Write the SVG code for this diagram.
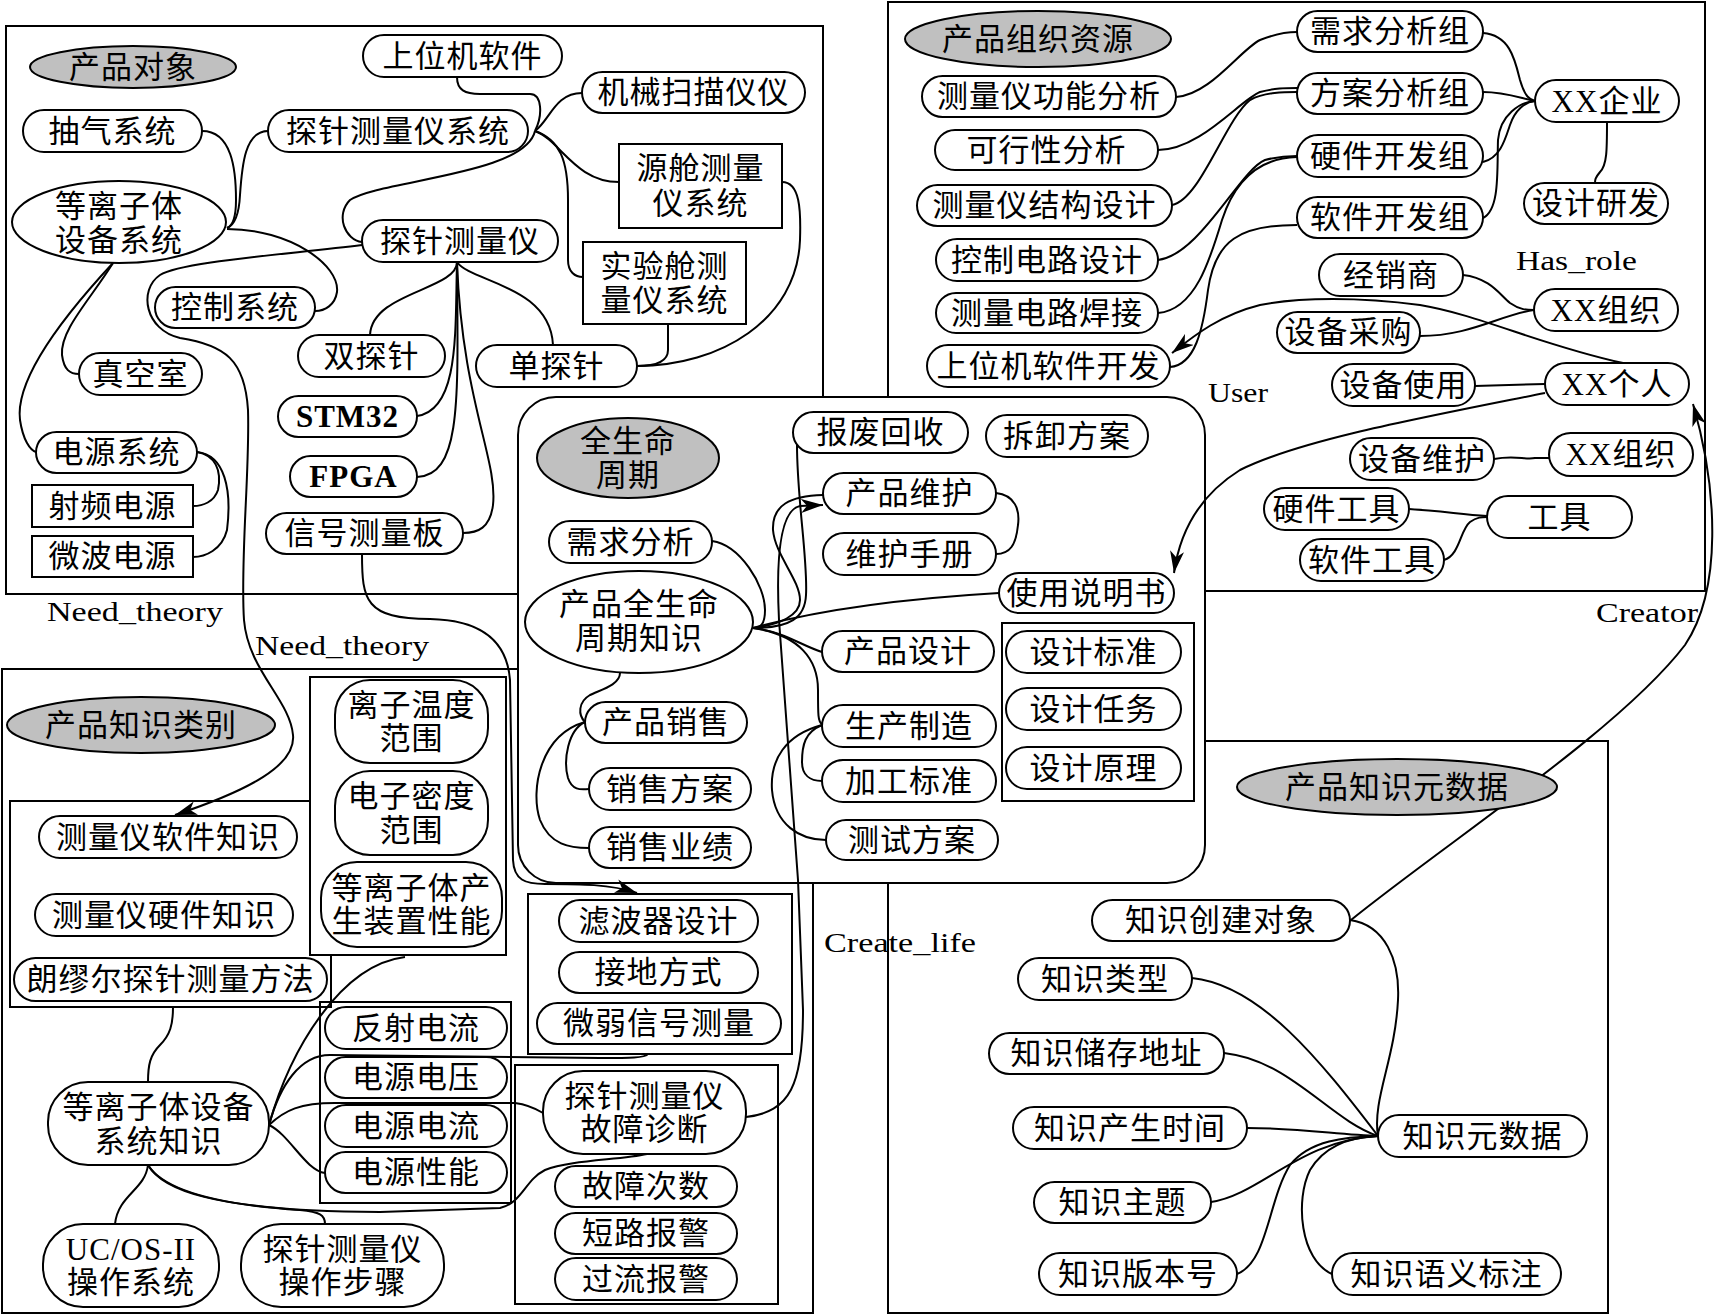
<svg xmlns="http://www.w3.org/2000/svg" width="1723" height="1316" viewBox="0 0 1723 1316">
<style>
.fr{fill:none;stroke:#000;stroke-width:2}
.p{fill:#fff;stroke:#000;stroke-width:2}
.r{fill:#fff;stroke:#000;stroke-width:2}
.b{fill:none;stroke:#000;stroke-width:2}
.e{fill:#c0c0c0;stroke:#000;stroke-width:2}
.w{fill:#fff;stroke:#000;stroke-width:2}
.c{fill:none;stroke:#000;stroke-width:2}
text{font-family:"Liberation Serif","Noto Sans CJK SC",serif;font-size:31px;fill:#000}
.t{text-anchor:middle;dominant-baseline:central;letter-spacing:1px}
.lb{font-size:28px}
.bd{font-weight:bold}
</style>
<defs>
<marker id="ar" markerUnits="userSpaceOnUse" markerWidth="24" markerHeight="14" refX="22" refY="7" orient="auto">
<path d="M0,0 L22,7 L0,14 L6,7 z" fill="#000"/>
</marker>
</defs>

<g id="frames">
<path class="fr" d="M518,594 H6 V26 H823 V397"/>
<path class="fr" d="M518,669 H2 V1313 H813 V883"/>
<path class="fr" d="M888,397 V2 H1705 V591 H1205"/>
<path class="fr" d="M888,883 V1313 H1608 V741 H1205"/>
<rect id="lifecycle-box" class="fr" x="518" y="397" width="687" height="486" rx="38"/>
<rect class="b" x="310" y="677" width="196" height="278"/>
<path class="b" d="M310,801 H10 V1007 H331 V955"/>
<rect class="b" x="320" y="1002" width="191" height="201"/>
<rect class="b" x="528" y="894" width="264" height="160"/>
<rect class="b" x="515" y="1065" width="263" height="239"/>
<rect class="b" x="1002" y="623" width="192" height="178"/>
</g>

<g id="labels">
<text class="lb" x="47" y="621" textLength="176" lengthAdjust="spacingAndGlyphs">Need_theory</text>
<text class="lb" x="255" y="655" textLength="174" lengthAdjust="spacingAndGlyphs">Need_theory</text>
<text class="lb" x="1208" y="402" textLength="60" lengthAdjust="spacingAndGlyphs">User</text>
<text class="lb" x="1516" y="270" textLength="121" lengthAdjust="spacingAndGlyphs">Has_role</text>
<text class="lb" x="1596" y="622" textLength="102" lengthAdjust="spacingAndGlyphs">Creator</text>
<text class="lb" x="824" y="952" textLength="152" lengthAdjust="spacingAndGlyphs">Create_life</text>
</g>

<g id="connectors">
<path class="c" d="M202,131 C232,131 236,170 236,200 C236,220 232,226 227,228"/>
<path class="c" d="M268,131 C245,131 242,165 240,195 C239,215 235,225 227,228"/>
<path class="c" d="M227,229 C290,229 340,265 337,292 C335,305 325,311 315,311"/>
<path class="c" marker-end="url(#ar)" d="M362,245 C280,255 180,262 160,275 C138,290 145,330 180,338 C225,345 245,360 248,410 C250,470 240,560 244,620 C248,670 290,700 293,735 C296,765 250,790 175,815"/>
<path class="c" d="M535,131 C525,175 380,180 350,200 C335,215 345,240 362,242"/>
<path class="c" d="M457,77 C457,90 465,94 480,94 L530,94 C542,94 543,115 535,131"/>
<path class="c" d="M535,131 C550,120 555,93 582,93"/>
<path class="c" d="M535,131 C560,140 575,182 619,182"/>
<path class="c" d="M535,131 C560,140 568,160 568,200 L568,260 C568,272 575,277 583,277"/>
<path class="c" d="M782,182 C800,182 801,210 800,240 C797,320 720,366 637,366"/>
<path class="c" d="M668,324 L668,350 C668,362 655,366 637,366"/>
<path class="c" d="M457,262 C457,290 372,292 370,335"/>
<path class="c" d="M457,262 C455,330 460,410 417,416"/>
<path class="c" d="M457,262 C458,400 462,475 417,477"/>
<path class="c" d="M457,262 C462,400 498,460 493,505 C490,528 478,533 463,533"/>
<path class="c" d="M457,262 C470,282 550,285 553,345"/>
<path class="c" marker-end="url(#ar)" d="M362,554 C362,600 365,619 430,619 C480,620 507,640 510,680 L513,860 C514,880 525,884 545,884 C580,884 610,884 637,893"/>
<path class="c" d="M113,263 C90,300 60,330 62,355 C64,370 70,374 79,374"/>
<path class="c" d="M113,263 C60,320 15,380 20,420 C23,440 30,450 36,452"/>
<path class="c" d="M197,452 C215,455 222,470 218,490 C214,502 203,506 193,506"/>
<path class="c" d="M197,452 C225,455 232,490 227,530 C222,550 205,557 193,557"/>

<path class="c" d="M1176,97 C1210,95 1240,50 1260,40 C1275,34 1285,32 1297,32"/>
<path class="c" d="M1158,150 C1200,150 1240,100 1260,92 C1275,88 1285,88 1297,88"/>
<path class="c" d="M1172,205 C1200,200 1225,120 1250,100 C1265,92 1285,92 1297,92"/>
<path class="c" d="M1158,260 C1200,255 1240,170 1265,160 C1280,156 1290,156 1297,156"/>
<path class="c" d="M1158,313 C1195,310 1210,260 1222,220 C1235,180 1260,158 1297,157"/>
<path class="c" d="M1170,367 C1195,365 1203,330 1208,290 C1215,240 1240,225 1297,225"/>
<path class="c" d="M1483,33 C1510,35 1515,60 1520,80 C1525,97 1530,100 1535,101"/>
<path class="c" d="M1483,92 C1505,92 1520,98 1535,101"/>
<path class="c" d="M1483,162 C1500,158 1505,140 1510,125 C1515,110 1525,102 1535,101"/>
<path class="c" d="M1483,218 C1500,210 1497,170 1498,140 C1500,115 1520,102 1535,101"/>
<path class="c" d="M1607,122 C1607,150 1607,165 1600,172 C1595,178 1595,180 1595,183"/>
<path class="c" d="M1463,275 C1490,278 1500,295 1510,303 C1520,310 1527,310 1534,310"/>
<path class="c" d="M1420,336 C1470,336 1500,315 1534,310"/>
<path class="c" d="M1475,386 L1545,384"/>
<path class="c" marker-end="url(#ar)" d="M1623,363 C1540,345 1480,315 1420,305 C1360,297 1300,297 1260,305 C1220,315 1195,335 1172,353"/>
<path class="c" marker-end="url(#ar)" d="M1545,393 C1420,418 1300,440 1240,470 C1200,495 1180,530 1174,573"/>
<path class="c" d="M1494,459 C1515,455 1525,460 1535,458 L1549,458"/>
<path class="c" d="M1409,509 C1440,511 1460,514 1487,516"/>
<path class="c" d="M1444,560 C1460,555 1460,530 1470,522 C1477,517 1482,517 1487,517"/>
<path class="c" marker-end="url(#ar)" d="M1351,920 C1450,840 1620,730 1685,645 C1722,590 1718,490 1693,404"/>

<path class="c" d="M712,541 C740,545 765,585 765,610 C765,625 760,628 753,628"/>
<path class="c" d="M620,673 C620,685 600,690 590,695 C578,702 578,715 585,722"/>
<path class="c" d="M585,722 C568,730 563,760 568,778 C572,790 580,790 589,789"/>
<path class="c" d="M585,722 C540,735 530,790 540,820 C550,845 570,848 589,848"/>
<path class="c" d="M797,445 C797,500 808,560 806,595 C805,618 790,628 753,628"/>
<path class="c" d="M753,628 C780,625 800,615 800,600 C800,580 775,555 773,530 C772,505 790,496 823,495"/>
<path class="c" marker-end="url(#ar)" d="M746,1117 C790,1112 803,1085 803,1010 L798,880 L779,620 C776,560 780,510 800,506 L823,505"/>
<path class="c" d="M753,628 C800,615 880,600 999,593"/>
<path class="c" d="M753,628 C785,632 800,645 822,652"/>
<path class="c" d="M753,628 C800,635 818,660 818,690 C818,715 818,722 822,724"/>
<path class="c" d="M822,725 C805,732 802,745 802,762 C802,775 810,781 822,781"/>
<path class="c" d="M822,725 C785,735 770,760 772,790 C775,825 800,840 826,840"/>
<path class="c" d="M996,493 C1015,495 1020,510 1018,525 C1016,545 1010,554 996,554"/>

<path class="c" d="M173,1007 C173,1025 170,1035 160,1045 C150,1055 148,1065 148,1082"/>
<path class="c" d="M269,1125 C290,1050 340,965 405,957"/>
<path class="c" d="M269,1125 C280,1085 300,1055 330,1055 L600,1058 C630,1058 645,1058 648,1054"/>
<path class="c" d="M269,1125 C285,1110 300,1103 335,1103 L515,1103 C530,1105 538,1110 543,1113"/>
<path class="c" d="M269,1125 C290,1135 305,1170 325,1173"/>
<path class="c" d="M148,1165 C145,1190 118,1195 115,1224"/>
<path class="c" d="M148,1165 C165,1195 230,1205 300,1210 C320,1212 325,1215 325,1224"/>
<path class="c" d="M148,1165 C170,1200 260,1212 380,1212 L500,1208 C522,1203 525,1180 545,1170 C570,1160 620,1160 647,1154"/>

<path class="c" d="M1350,920 C1385,925 1400,960 1398,1000 C1395,1060 1372,1100 1378,1136"/>
<path class="c" d="M1192,978 C1260,985 1320,1060 1378,1136"/>
<path class="c" d="M1224,1053 C1290,1060 1330,1120 1378,1136"/>
<path class="c" d="M1247,1128 C1300,1128 1340,1135 1378,1136"/>
<path class="c" d="M1211,1202 C1260,1195 1300,1140 1378,1136"/>
<path class="c" d="M1237,1274 C1268,1262 1268,1200 1290,1165 C1310,1140 1345,1137 1378,1136"/>
<path class="c" d="M1332,1274 C1300,1260 1295,1200 1310,1170 C1325,1145 1350,1137 1378,1136"/>
</g>

<!-- Product object -->
<g id="n-cpdx"><ellipse class="e" cx="133" cy="67" rx="103" ry="21"/><text class="t" x="133" y="67">产品对象</text></g>
<g id="n-swjrj"><rect class="p" x="363" y="35" width="199" height="42" rx="21"/><text class="t" x="462.5" y="56">上位机软件</text></g>
<g id="n-jxsmy"><rect class="p" x="582" y="72" width="223" height="41" rx="20.5"/><text class="t" x="693.5" y="92.5">机械扫描仪仪</text></g>
<g id="n-cqxt"><rect class="p" x="23" y="110" width="179" height="42" rx="21"/><text class="t" x="112.5" y="131">抽气系统</text></g>
<g id="n-tzclyxt"><rect class="p" x="268" y="110" width="260" height="42" rx="21"/><text class="t" x="398" y="131">探针测量仪系统</text></g>
<g id="n-yc"><rect class="r" x="619" y="144" width="163" height="84"/><text class="t" x="700.5" y="168">源舱测量</text><text class="t" x="700.5" y="203">仪系统</text></g>
<g id="n-dlzt"><ellipse class="w" cx="119" cy="222" rx="107" ry="41"/><text class="t" x="119" y="206">等离子体</text><text class="t" x="119" y="240">设备系统</text></g>
<g id="n-tzcly"><rect class="p" x="362" y="220" width="196" height="42" rx="21"/><text class="t" x="460" y="241">探针测量仪</text></g>
<g id="n-syc"><rect class="r" x="583" y="242" width="163" height="82"/><text class="t" x="664.5" y="266">实验舱测</text><text class="t" x="664.5" y="300">量仪系统</text></g>
<g id="n-kzxt"><rect class="p" x="155" y="287" width="160" height="41" rx="20.5"/><text class="t" x="235" y="307.5">控制系统</text></g>
<g id="n-stz"><rect class="p" x="298" y="335" width="147" height="42" rx="21"/><text class="t" x="371.5" y="356">双探针</text></g>
<g id="n-zks"><rect class="p" x="79" y="353" width="123" height="42" rx="21"/><text class="t" x="140.5" y="374">真空室</text></g>
<g id="n-dtz"><rect class="p" x="476" y="345" width="161" height="42" rx="21"/><text class="t" x="556.5" y="366">单探针</text></g>
<g id="n-stm32"><rect class="p" x="278" y="396" width="139" height="41" rx="20.5"/><text class="t bd" x="347.5" y="416.5">STM32</text></g>
<g id="n-dyxt"><rect class="p" x="36" y="432" width="161" height="41" rx="20.5"/><text class="t" x="116.5" y="452.5">电源系统</text></g>
<g id="n-fpga"><rect class="p" x="290" y="456" width="127" height="41" rx="20.5"/><text class="t bd" x="353.5" y="476.5">FPGA</text></g>
<g id="n-spdy"><rect class="r" x="32" y="485" width="161" height="42"/><text class="t" x="112.5" y="506">射频电源</text></g>
<g id="n-xhclb"><rect class="p" x="266" y="513" width="197" height="41" rx="20.5"/><text class="t" x="364.5" y="533.5">信号测量板</text></g>
<g id="n-wbdy"><rect class="r" x="32" y="536" width="161" height="41"/><text class="t" x="112.5" y="556.5">微波电源</text></g>

<!-- Organization resources -->
<g id="n-cpzzzy"><ellipse class="e" cx="1038" cy="39" rx="133" ry="28"/><text class="t" x="1038" y="39">产品组织资源</text></g>
<g id="n-xqfxz"><rect class="p" x="1297" y="11" width="186" height="41" rx="20.5"/><text class="t" x="1390" y="31.5">需求分析组</text></g>
<g id="n-clygnfx"><rect class="p" x="922" y="76" width="254" height="41" rx="20.5"/><text class="t" x="1049" y="96.5">测量仪功能分析</text></g>
<g id="n-fafxz"><rect class="p" x="1297" y="73" width="186" height="41" rx="20.5"/><text class="t" x="1390" y="93.5">方案分析组</text></g>
<g id="n-xxqy"><rect class="p" x="1535" y="80" width="144" height="42" rx="21"/><text class="t" x="1607" y="101">XX企业</text></g>
<g id="n-kxxfx"><rect class="p" x="935" y="130" width="223" height="40" rx="20"/><text class="t" x="1046.5" y="150">可行性分析</text></g>
<g id="n-yjkfz"><rect class="p" x="1297" y="135" width="186" height="42" rx="21"/><text class="t" x="1390" y="156">硬件开发组</text></g>
<g id="n-clyjgsj"><rect class="p" x="917" y="185" width="255" height="41" rx="20.5"/><text class="t" x="1044.5" y="205.5">测量仪结构设计</text></g>
<g id="n-sjyf"><rect class="p" x="1524" y="183" width="144" height="41" rx="20.5"/><text class="t" x="1596" y="203.5">设计研发</text></g>
<g id="n-rjkfz"><rect class="p" x="1297" y="197" width="186" height="41" rx="20.5"/><text class="t" x="1390" y="217.5">软件开发组</text></g>
<g id="n-kzdlsj"><rect class="p" x="936" y="239" width="222" height="42" rx="21"/><text class="t" x="1047" y="260">控制电路设计</text></g>
<g id="n-jxs"><rect class="p" x="1319" y="254" width="144" height="42" rx="21"/><text class="t" x="1391" y="275">经销商</text></g>
<g id="n-xxzz"><rect class="p" x="1534" y="289" width="144" height="42" rx="21"/><text class="t" x="1606" y="310">XX组织</text></g>
<g id="n-cldlhj"><rect class="p" x="936" y="293" width="222" height="40" rx="20"/><text class="t" x="1047" y="313">测量电路焊接</text></g>
<g id="n-sbcg"><rect class="p" x="1277" y="312" width="143" height="41" rx="20.5"/><text class="t" x="1348.5" y="332.5">设备采购</text></g>
<g id="n-swjrjkf"><rect class="p" x="927" y="345" width="243" height="42" rx="21"/><text class="t" x="1048.5" y="366">上位机软件开发</text></g>
<g id="n-sbsy"><rect class="p" x="1332" y="364" width="143" height="42" rx="21"/><text class="t" x="1403.5" y="385">设备使用</text></g>
<g id="n-xxgr"><rect class="p" x="1545" y="363" width="144" height="42" rx="21"/><text class="t" x="1617" y="384">XX个人</text></g>
<g id="n-sbwh"><rect class="p" x="1350" y="438" width="144" height="42" rx="21"/><text class="t" x="1422" y="459">设备维护</text></g>
<g id="n-xxzz2"><rect class="p" x="1549" y="433" width="144" height="43" rx="21.5"/><text class="t" x="1621" y="454.5">XX组织</text></g>
<g id="n-yjgj"><rect class="p" x="1264" y="488" width="145" height="42" rx="21"/><text class="t" x="1336.5" y="509">硬件工具</text></g>
<g id="n-gj"><rect class="p" x="1487" y="496" width="145" height="42" rx="21"/><text class="t" x="1559.5" y="517">工具</text></g>
<g id="n-rjgj"><rect class="p" x="1300" y="539" width="144" height="42" rx="21"/><text class="t" x="1372" y="560">软件工具</text></g>

<!-- Lifecycle -->
<g id="n-qsmzq"><ellipse class="e" cx="628" cy="458" rx="91" ry="40"/><text class="t" x="628" y="441">全生命</text><text class="t" x="628" y="475">周期</text></g>
<g id="n-bfhs"><rect class="p" x="793" y="412" width="175" height="41" rx="20.5"/><text class="t" x="880.5" y="432.5">报废回收</text></g>
<g id="n-cxfa"><rect class="p" x="986" y="415" width="162" height="42" rx="21"/><text class="t" x="1067" y="436">拆卸方案</text></g>
<g id="n-cpwh"><rect class="p" x="823" y="473" width="173" height="41" rx="20.5"/><text class="t" x="909.5" y="493.5">产品维护</text></g>
<g id="n-xqfx"><rect class="p" x="549" y="521" width="163" height="42" rx="21"/><text class="t" x="630.5" y="542">需求分析</text></g>
<g id="n-whsc"><rect class="p" x="823" y="533" width="173" height="42" rx="21"/><text class="t" x="909.5" y="554">维护手册</text></g>
<g id="n-cpqsmzqzs"><ellipse class="w" cx="639" cy="622" rx="114" ry="51"/><text class="t" x="639" y="604">产品全生命</text><text class="t" x="639" y="638">周期知识</text></g>
<g id="n-sysms"><rect class="p" x="999" y="573" width="175" height="40" rx="20"/><text class="t" x="1086.5" y="593">使用说明书</text></g>
<g id="n-cpsj"><rect class="p" x="822" y="631" width="172" height="41" rx="20.5"/><text class="t" x="908" y="651.5">产品设计</text></g>
<g id="n-sjbz"><rect class="p" x="1006" y="631" width="175" height="42" rx="21"/><text class="t" x="1093.5" y="652">设计标准</text></g>
<g id="n-sjrw"><rect class="p" x="1006" y="688" width="175" height="42" rx="21"/><text class="t" x="1093.5" y="709">设计任务</text></g>
<g id="n-sjyl"><rect class="p" x="1006" y="747" width="175" height="42" rx="21"/><text class="t" x="1093.5" y="768">设计原理</text></g>
<g id="n-cpxs"><rect class="p" x="585" y="702" width="162" height="41" rx="20.5"/><text class="t" x="666" y="722.5">产品销售</text></g>
<g id="n-sczz"><rect class="p" x="822" y="705" width="174" height="42" rx="21"/><text class="t" x="909" y="726">生产制造</text></g>
<g id="n-jgbz"><rect class="p" x="822" y="760" width="174" height="42" rx="21"/><text class="t" x="909" y="781">加工标准</text></g>
<g id="n-xsfa"><rect class="p" x="589" y="768" width="162" height="42" rx="21"/><text class="t" x="670" y="789">销售方案</text></g>
<g id="n-csfa"><rect class="p" x="826" y="820" width="172" height="40" rx="20"/><text class="t" x="912" y="840">测试方案</text></g>
<g id="n-xsyj"><rect class="p" x="589" y="827" width="162" height="41" rx="20.5"/><text class="t" x="670" y="847.5">销售业绩</text></g>

<!-- Knowledge categories -->
<g id="n-cpzslb"><ellipse class="e" cx="141" cy="725" rx="134" ry="28"/><text class="t" x="141" y="725">产品知识类别</text></g>
<g id="n-lzwd"><rect class="p" x="335" y="680" width="153" height="83" rx="35"/><text class="t" x="411.5" y="705">离子温度</text><text class="t" x="411.5" y="738">范围</text></g>
<g id="n-dzmd"><rect class="p" x="335" y="771" width="153" height="84" rx="35"/><text class="t" x="411.5" y="796">电子密度</text><text class="t" x="411.5" y="830">范围</text></g>
<g id="n-dlztcs"><rect class="p" x="321" y="862" width="181" height="85" rx="36"/><text class="t" x="411.5" y="888">等离子体产</text><text class="t" x="411.5" y="921">生装置性能</text></g>
<g id="n-clyrj"><rect class="p" x="39" y="816" width="258" height="42" rx="21"/><text class="t" x="168" y="837">测量仪软件知识</text></g>
<g id="n-clyyj"><rect class="p" x="35" y="894" width="258" height="42" rx="21"/><text class="t" x="164" y="915">测量仪硬件知识</text></g>
<g id="n-lmetz"><rect class="p" x="14" y="958" width="313" height="43" rx="21.5"/><text class="t" x="170.5" y="979.5">朗缪尔探针测量方法</text></g>
<g id="n-fsdl"><rect class="p" x="325" y="1007" width="182" height="42" rx="21"/><text class="t" x="416" y="1028">反射电流</text></g>
<g id="n-dydy"><rect class="p" x="325" y="1057" width="182" height="41" rx="20.5"/><text class="t" x="416" y="1077.5">电源电压</text></g>
<g id="n-dydl"><rect class="p" x="325" y="1105" width="182" height="42" rx="21"/><text class="t" x="416" y="1126">电源电流</text></g>
<g id="n-dyxn"><rect class="p" x="325" y="1152" width="182" height="41" rx="20.5"/><text class="t" x="416" y="1172.5">电源性能</text></g>
<g id="n-dlztzs"><rect class="p" x="48" y="1082" width="221" height="83" rx="40"/><text class="t" x="158.5" y="1107">等离子体设备</text><text class="t" x="158.5" y="1141">系统知识</text></g>
<g id="n-ucos"><rect class="p" x="43" y="1224" width="176" height="83" rx="40"/><text class="t" x="131" y="1249">UC/OS-II</text><text class="t" x="131" y="1282">操作系统</text></g>
<g id="n-czbz"><rect class="p" x="241" y="1224" width="203" height="83" rx="40"/><text class="t" x="342.5" y="1249">探针测量仪</text><text class="t" x="342.5" y="1282">操作步骤</text></g>
<g id="n-lbqsj"><rect class="p" x="559" y="900" width="199" height="42" rx="21"/><text class="t" x="658.5" y="921">滤波器设计</text></g>
<g id="n-jdfs"><rect class="p" x="559" y="952" width="199" height="41" rx="20.5"/><text class="t" x="658.5" y="972.5">接地方式</text></g>
<g id="n-wrxh"><rect class="p" x="537" y="1003" width="244" height="41" rx="20.5"/><text class="t" x="659" y="1023.5">微弱信号测量</text></g>
<g id="n-gzzd"><rect class="p" x="543" y="1071" width="203" height="83" rx="40"/><text class="t" x="644.5" y="1096">探针测量仪</text><text class="t" x="644.5" y="1129">故障诊断</text></g>
<g id="n-gzcs"><rect class="p" x="555" y="1166" width="182" height="41" rx="20.5"/><text class="t" x="646" y="1186.5">故障次数</text></g>
<g id="n-dlbj"><rect class="p" x="555" y="1213" width="182" height="41" rx="20.5"/><text class="t" x="646" y="1233.5">短路报警</text></g>
<g id="n-glbj"><rect class="p" x="555" y="1258" width="182" height="42" rx="21"/><text class="t" x="646" y="1279">过流报警</text></g>

<!-- Knowledge metadata -->
<g id="n-cpzsysj"><ellipse class="e" cx="1397" cy="787" rx="160" ry="28"/><text class="t" x="1397" y="787">产品知识元数据</text></g>
<g id="n-zscjdx"><rect class="p" x="1092" y="900" width="258" height="41" rx="20.5"/><text class="t" x="1221" y="920.5">知识创建对象</text></g>
<g id="n-zslx"><rect class="p" x="1018" y="958" width="174" height="42" rx="21"/><text class="t" x="1105" y="979">知识类型</text></g>
<g id="n-zsccdz"><rect class="p" x="989" y="1033" width="235" height="41" rx="20.5"/><text class="t" x="1106.5" y="1053.5">知识储存地址</text></g>
<g id="n-zscssj"><rect class="p" x="1013" y="1107" width="234" height="42" rx="21"/><text class="t" x="1130" y="1128">知识产生时间</text></g>
<g id="n-zszt"><rect class="p" x="1034" y="1182" width="177" height="41" rx="20.5"/><text class="t" x="1122.5" y="1202.5">知识主题</text></g>
<g id="n-zsbbh"><rect class="p" x="1039" y="1253" width="198" height="42" rx="21"/><text class="t" x="1138" y="1274">知识版本号</text></g>
<g id="n-zsysj"><rect class="p" x="1378" y="1115" width="209" height="42" rx="21"/><text class="t" x="1482.5" y="1136">知识元数据</text></g>
<g id="n-zsyybz"><rect class="p" x="1332" y="1253" width="229" height="42" rx="21"/><text class="t" x="1446.5" y="1274">知识语义标注</text></g>
</svg>
